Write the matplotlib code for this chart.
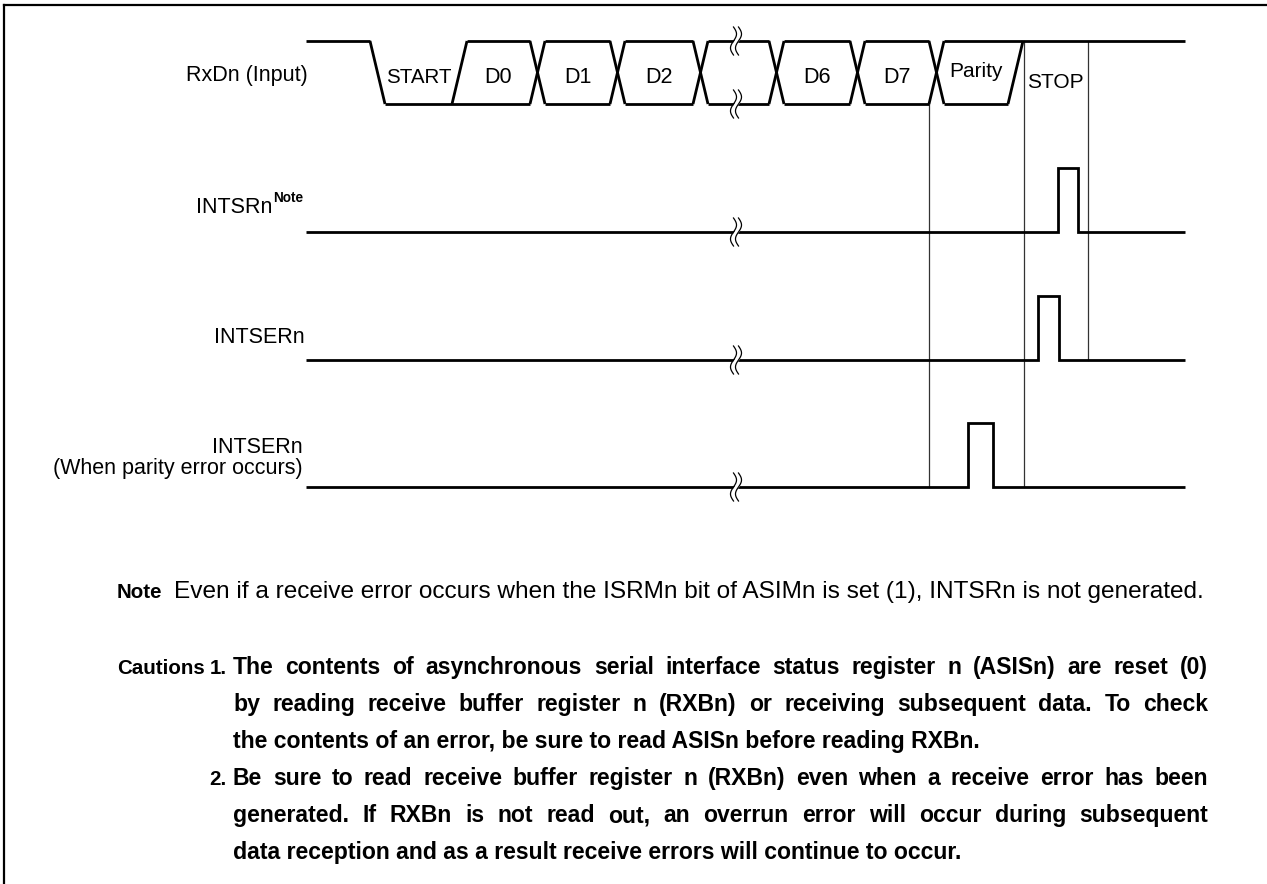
import matplotlib
matplotlib.use('Agg')
import matplotlib.pyplot as plt
import numpy as np

W, H, DPI = 1267, 884, 100

# ---------------- data ----------------
signal_labels = ['RxDn (Input)', 'INTSRn', 'INTSERn', 'INTSERn']
signal_sublabel = '(When parity error occurs)'
note_superscript = 'Note'

x_start, x_end = 306, 1185
rxd_high, rxd_low = 41, 104
# transition start positions of RxDn and the line state of each cell
rxd_edges = [370, 452, 530, 610, 693, 769, 850, 929, 1008]
rxd_states = ['high', 'low', 'bus', 'bus', 'bus', 'bus', 'bus', 'bus', 'bus', 'high']
edge_w = 15
bit_labels = ['START', 'D0', 'D1', 'D2', '', 'D6', 'D7', 'Parity', 'STOP']
break_x = 736

row_low = [232, 360, 487]
pulse_h = 64
pulse_start = [1058, 1038, 968]
pulse_end = [1078, 1059, 993]

guide_x = [929, 1024, 1088]
guide_top = [104, 41, 41]
guide_bottom = [487, 487, 360]

note_head = 'Note'
note_text = 'Even if a receive error occurs when the ISRMn bit of ASIMn is set (1), INTSRn is not generated.'
caution_head = 'Cautions'
caution1_num = '1.'
caution1_lines = [
    'The contents of asynchronous serial interface status register n (ASISn) are reset (0)',
    'by reading receive buffer register n (RXBn) or receiving subsequent data. To check',
    'the contents of an error, be sure to read ASISn before reading RXBn.',
]
caution2_num = '2.'
caution2_lines = [
    'Be sure to read receive buffer register n (RXBn) even when a receive error has been',
    'generated. If RXBn is not read out, an overrun error will occur during subsequent',
    'data reception and as a result receive errors will continue to occur.',
]

# ---------------- fonts ----------------
FAM = ['Liberation Sans', 'DejaVu Sans']
HEAD_FS = 14.8

# ---------------- figure ----------------
fig = plt.figure(figsize=(W / DPI, H / DPI), dpi=DPI)
ax = fig.add_axes([0, 0, 1, 1])
ax.set_xlim(0, W)
ax.set_ylim(H, 0)
ax.set_axis_off()

LW = 2.0
ln = dict(color='black', lw=LW, solid_capstyle='butt', solid_joinstyle='miter', zorder=2)

# frame (top and left edges)
ax.plot([3.5, W], [5, 5], color='black', lw=1.6, zorder=1)
ax.plot([3.5, 3.5], [5, H], color='black', lw=1.6, zorder=1)

# ---- RxDn waveform ----
top_open, bot_open = x_start, None
for i, x in enumerate(rxd_edges):
    a, b = rxd_states[i], rxd_states[i + 1]
    if a == 'high' and b == 'low':
        ax.plot([top_open, x], [rxd_high, rxd_high], **ln)
        ax.plot([x, x + edge_w], [rxd_high, rxd_low], **ln)
        top_open, bot_open = None, x + edge_w
    elif a == 'low' and b == 'bus':
        ax.plot([x, x + edge_w], [rxd_low, rxd_high], **ln)
        top_open = x + edge_w
    elif a == 'bus' and b == 'bus':
        ax.plot([top_open, x], [rxd_high, rxd_high], **ln)
        ax.plot([bot_open, x], [rxd_low, rxd_low], **ln)
        ax.plot([x, x + edge_w], [rxd_high, rxd_low], **ln)
        ax.plot([x, x + edge_w], [rxd_low, rxd_high], **ln)
        top_open = bot_open = x + edge_w
    elif a == 'bus' and b == 'high':
        ax.plot([bot_open, x], [rxd_low, rxd_low], **ln)
        ax.plot([x, x + edge_w], [rxd_low, rxd_high], **ln)
        bot_open = None
ax.plot([top_open, x_end], [rxd_high, rxd_high], **ln)

# bit labels
for i, lab in enumerate(bit_labels):
    if not lab:
        continue
    left = rxd_edges[i] + edge_w
    right = rxd_edges[i + 1] if i + 1 < len(rxd_edges) else guide_x[2]
    yb, fs = 83, 15.5
    if lab == 'START':
        fs = 14.8
    elif lab == 'Parity':
        yb, fs = 77, 15.0
    elif lab == 'STOP':
        yb, fs = 88, 15.0
    ax.text((left + right) / 2, yb, lab, ha='center', va='baseline',
            fontsize=fs, family=FAM)

# ---- pulse rows ----
for low, s, e in zip(row_low, pulse_start, pulse_end):
    xs = [x_start, s, s, e, e, x_end]
    ys = [low, low, low - pulse_h, low - pulse_h, low, low]
    ax.plot(xs, ys, **ln)

# ---- guide lines ----
for gx, gt, gb in zip(guide_x, guide_top, guide_bottom):
    ax.plot([gx, gx], [gt, gb], color='#333333', lw=0.9, zorder=1)

# ---- break marks ----
def break_mark(x0, y0):
    yy = np.linspace(-14, 14, 60)
    cx = -3.0 * np.sin(np.pi * yy / 14)
    ax.fill_betweenx(yy + y0, x0 - 2.5 + cx, x0 + 2.5 + cx, color='white', lw=0, zorder=3)
    ax.plot(x0 - 2.5 + cx, yy + y0, color='black', lw=0.9, zorder=4)
    ax.plot(x0 + 2.5 + cx, yy + y0, color='black', lw=0.9, zorder=4)

for y0 in [rxd_high, rxd_low] + row_low:
    break_mark(break_x, y0)

# ---- signal labels ----
LFS = 15.5
ax.text(308, 81, signal_labels[0], ha='right', va='baseline', fontsize=LFS, family=FAM)
ax.text(272, 213, signal_labels[1], ha='right', va='baseline', fontsize=LFS, family=FAM)
ax.text(273, 202, note_superscript, ha='left', va='baseline', fontsize=9.8,
        fontweight='bold', family=FAM)
ax.text(305, 343, signal_labels[2], ha='right', va='baseline', fontsize=LFS, family=FAM)
ax.text(303, 453, signal_labels[3], ha='right', va='baseline', fontsize=LFS, family=FAM)
ax.text(303, 474, signal_sublabel, ha='right', va='baseline', fontsize=LFS, family=FAM)

# ---- notes ----
renderer = fig.canvas.get_renderer()
NFS = 17.6
BFS = 16.6

ax.text(117, 598, note_head, ha='left', va='baseline', fontsize=HEAD_FS,
        fontweight='bold', family=FAM)
ax.text(174, 598, note_text, ha='left', va='baseline', fontsize=NFS, family=FAM)
ax.text(117, 674, caution_head, ha='left', va='baseline', fontsize=HEAD_FS,
        fontweight='bold', family=FAM)
ax.text(227, 674, caution1_num, ha='right', va='baseline', fontsize=HEAD_FS,
        fontweight='bold', family=FAM)
ax.text(227, 785, caution2_num, ha='right', va='baseline', fontsize=HEAD_FS,
        fontweight='bold', family=FAM)


def put_line(text, x0, x1, y, justify):
    if not justify:
        ax.text(x0, y, text, ha='left', va='baseline', fontsize=BFS,
                fontweight='bold', family=FAM)
        return
    words = text.split(' ')
    ts = [ax.text(0, y, w, ha='left', va='baseline', fontsize=BFS,
                  fontweight='bold', family=FAM) for w in words]
    widths = [t.get_window_extent(renderer=renderer).width for t in ts]
    gap = (x1 - x0 - sum(widths)) / (len(words) - 1)
    x = x0
    for t, w in zip(ts, widths):
        t.set_x(x)
        x += w + gap


LX0, LX1 = 233, 1208
ys = [674, 711, 748]
for k, line in enumerate(caution1_lines):
    put_line(line, LX0, LX1, ys[k], k < len(caution1_lines) - 1)
ys = [785, 822, 859]
for k, line in enumerate(caution2_lines):
    put_line(line, LX0, LX1, ys[k], k < len(caution2_lines) - 1)

fig.savefig('out.png', dpi=DPI)
